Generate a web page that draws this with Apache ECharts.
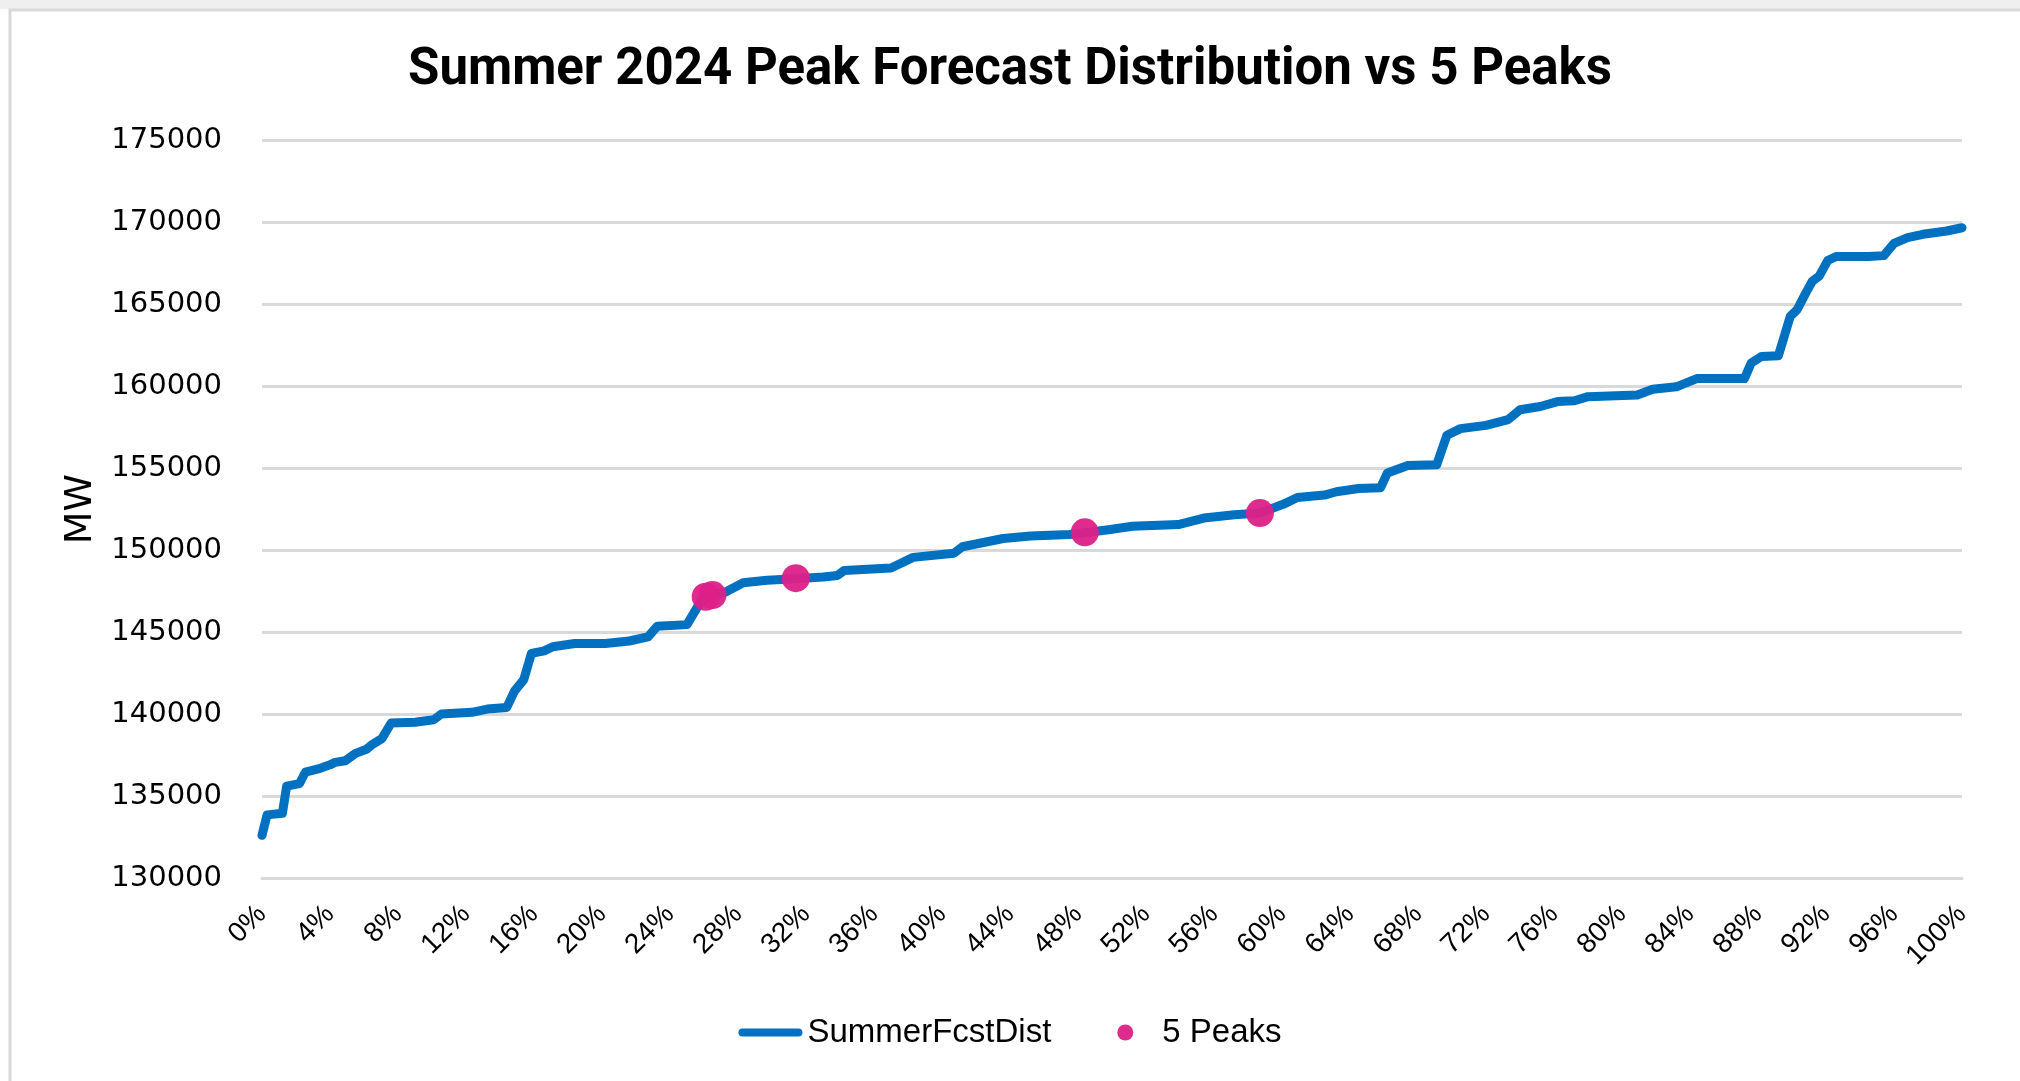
<!DOCTYPE html>
<html>
<head>
<meta charset="utf-8">
<script src="https://cdn.jsdelivr.net/npm/echarts@6/dist/echarts.min.js"></script>
<style>
  html, body { margin: 0; padding: 0; background: #fff; }
  #main { width: 2020px; height: 1081px; }
</style>
</head>
<body>
<div id="main"></div>
<script>
// distribution percentile (x) and forecast peak MW (y)
var fcstPct = [0, 0.3, 1.2, 1.45, 2.2, 2.55, 3.3, 4.0, 4.3, 4.9, 5.5, 6.15, 6.5, 7.05, 7.6, 9.0, 10.1, 10.55,
  12.35, 13.25, 14.4, 14.85, 15.4, 15.85, 16.6, 17.1, 18.4, 20.2, 21.6, 22.7, 23.25, 25.0, 25.8, 26.3,
  27.3, 28.3, 29.7, 31.4, 33.0, 33.85, 34.25, 37.0, 38.3, 40.7, 41.2, 43.6, 45.2, 47.5, 48.4, 49.9,
  51.2, 53.9, 55.4, 57.2, 58.7, 60.1, 60.9, 62.5, 63.2, 64.5, 65.8, 66.2, 67.4, 69.1, 69.7, 70.5,
  72.0, 73.3, 74.0, 75.2, 76.2, 77.2, 78.0, 80.9, 81.8, 83.2, 84.4, 87.2, 87.6, 88.2, 89.2, 89.9,
  90.3, 90.8, 91.2, 91.6, 92.1, 92.6, 94.5, 95.4, 96.0, 96.8, 97.7, 99.1, 100];
var fcstMW = [132600, 133850, 133950, 135600, 135750, 136450, 136650, 136900, 137050, 137150, 137600, 137850,
  138150, 138500, 139450, 139500, 139650, 140000, 140100, 140300, 140400, 141400, 142100, 143700, 143850,
  144100, 144300, 144300, 144450, 144700, 145350, 145450, 146850, 147200, 147450, 148000, 148150, 148250,
  148350, 148450, 148750, 148900, 149550, 149800, 150200, 150700, 150850, 150950, 151050, 151250, 151450,
  151550, 151950, 152150, 152250, 152800, 153200, 153350, 153550, 153750, 153800, 154700, 155150, 155200,
  157000, 157400, 157600, 157950, 158550, 158750, 159050, 159100, 159350, 159450, 159800, 159950, 160450,
  160450, 161400, 161800, 161850, 164250, 164650, 165650, 166400, 166700, 167650, 167900, 167900, 167950,
  168700, 169050, 169250, 169450, 169650];

var peakPct = [26.1, 26.5, 31.4, 48.4, 58.7];
var peakMW = [147150, 147250, 148280, 151080, 152250];

function pairs(xs, ys) {
  var out = [];
  for (var i = 0; i < xs.length; i++) out.push([xs[i], ys[i]]);
  return out;
}

var myChart = echarts.init(document.getElementById('main'));
var option = {
  backgroundColor: '#fff',
  animation: false,
  title: {
    text: 'Summer 2024 Peak Forecast Distribution vs 5 Peaks',
    left: 'center',
    top: 41,
    textStyle: {
      fontFamily: 'Roboto',
      fontWeight: 'bold',
      fontSize: 51,
      color: '#000'
    }
  },
  graphic: [
    { type: 'rect', shape: { x: 0, y: 0, width: 2020, height: 9 }, style: { fill: '#efefef' }, silent: true },
    { type: 'rect', shape: { x: 10, y: 10, width: 2040, height: 1100 }, style: { fill: 'none', stroke: '#d9d9d9', lineWidth: 3 }, silent: true }
  ],
  legend: {
    bottom: 27,
    left: 'center',
    itemWidth: 64,
    itemHeight: 16,
    itemGap: 66,
    textStyle: { fontFamily: 'Liberation Sans', fontSize: 33, color: '#000' },
    data: [
      { name: 'SummerFcstDist', icon: 'path://M4,0 L60,0 A4,4 0 0 1 60,8 L4,8 A4,4 0 0 1 4,0 Z' },
      { name: '5 Peaks', icon: 'circle' }
    ]
  },
  grid: { left: 262, right: 58, top: 140, bottom: 203 },
  xAxis: {
    type: 'value',
    min: 0,
    max: 100,
    interval: 4,
    axisLine: { show: true, lineStyle: { color: '#d9d9d9', width: 3 } },
    axisTick: { show: false },
    splitLine: { show: false },
    axisLabel: {
      rotate: 45,
      margin: 32,
      formatter: '{value}%',
      fontFamily: 'Liberation Sans',
      fontSize: 28,
      color: '#000'
    }
  },
  yAxis: {
    type: 'value',
    min: 130000,
    max: 175000,
    interval: 5000,
    name: 'MW',
    nameLocation: 'middle',
    nameGap: 160,
    nameTextStyle: { fontFamily: 'DejaVu Sans', fontSize: 38, color: '#000' },
    axisLine: { show: false },
    axisTick: { show: false },
    splitLine: { lineStyle: { color: '#d9d9d9', width: 3 } },
    axisLabel: {
      margin: 40,
      formatter: function (v) { return String(v); },
      fontFamily: 'DejaVu Sans',
      fontSize: 29,
      color: '#000'
    }
  },
  series: [
    {
      name: 'SummerFcstDist',
      type: 'line',
      showSymbol: false,
      symbol: 'none',
      data: pairs(fcstPct, fcstMW),
      lineStyle: { color: '#0070C0', width: 9, cap: 'round', join: 'round' },
      itemStyle: { color: '#0070C0' },
      z: 2
    },
    {
      name: '5 Peaks',
      type: 'scatter',
      symbol: 'circle',
      symbolSize: 28,
      data: pairs(peakPct, peakMW),
      itemStyle: { color: '#DD2088', opacity: 0.95 },
      z: 3
    }
  ]
};
myChart.setOption(option);
</script>
</body>
</html>
